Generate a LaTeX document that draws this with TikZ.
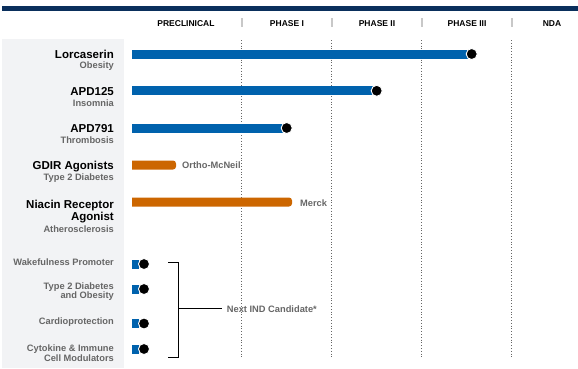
\documentclass[tikz,border=0pt]{standalone}
\usepackage{fontspec}
\setmainfont{Liberation Sans}
\usetikzlibrary{positioning,calc}
\definecolor{PipeNavy}{HTML}{0A2F5C}
\definecolor{PipeBlue}{HTML}{0062AD}
\definecolor{PipeOrange}{HTML}{CC6600}
\definecolor{PipeGray}{HTML}{666666}
\definecolor{PipePanel}{HTML}{F2F3F5}
\definecolor{PipeRule}{HTML}{C8C8C8}

\begin{document}
\begin{tikzpicture}[x=1pt,y=-1pt,
    title/.style={anchor=base east,inner sep=0pt,font=\fontsize{11.5}{12}\selectfont\bfseries},
    sub/.style={anchor=base east,inner sep=0pt,text=PipeGray,font=\fontsize{9.3}{10}\selectfont\bfseries},
    phase/.style={anchor=base,inner sep=0pt,font=\fontsize{8.5}{10}\selectfont\bfseries},
    dot/.style={circle,fill=black,draw=white,line width=0.9pt,minimum size=11pt,inner sep=0pt}]
    \useasboundingbox (0,0) rectangle (578,368);
    \fill[PipeNavy] (2,6) rectangle (578,11);
    \fill[PipePanel] (2,39) rectangle (124,368);
    % phase columns
    \foreach \x in {241.7,331.7,421.7,511.7} {
      \draw[PipeRule,line width=1.6pt] (\x,18.3) -- (\x,27.3);
      \draw[PipeGray,line width=0.7pt,dash pattern=on 0.7pt off 2.1pt] (\x,40) -- (\x,357);
    }
    \node[phase] (pre) at (186,26) {PRECLINICAL};
    \node[phase] (ph1) at (287,26) {PHASE I};
    \node[phase] (ph2) at (377,26) {PHASE II};
    \node[phase] (ph3) at (467,26) {PHASE III};
    \node[phase] (nda) at (552,26) {NDA};
    % lead compounds
    \node[title] (lorc) at (114,58) {Lorcaserin};
    \node[sub] (lorcsub) at (114,68) {Obesity};
    \fill[PipeBlue] (132,49.5) rectangle (468,58.5);
    \node[dot] (lorcdot) at (471.7,54) {};
    \node[title] (apda) at (114,95.5) {APD125};
    \node[sub] (apdasub) at (114,106.5) {Insomnia};
    \fill[PipeBlue] (132,86.3) rectangle (373,95.3);
    \node[dot] (apdadot) at (376.7,90.8) {};
    \node[title] (apdb) at (114,132.5) {APD791};
    \node[sub] (apdbsub) at (114,143) {Thrombosis};
    \fill[PipeBlue] (132,123.5) rectangle (283,132.5);
    \node[dot] (apdbdot) at (286.7,128) {};
    % partnered programs
    \node[title] (gdir) at (114,169) {GDIR Agonists};
    \node[sub] (gdirsub) at (114,180.5) {Type 2 Diabetes};
    \fill[PipeOrange] (132,160.5) -- (173,160.5) .. controls (174.7,160.5) and (176,161.8) .. (176,163.5)
      -- (176,166.5) .. controls (176,168.2) and (174.7,169.5) .. (173,169.5) -- (132,169.5) -- cycle;
    \node[sub,anchor=base west] (ortho) at (182,168.5) {Ortho-McNeil};
    \node[title] (niac) at (114,208.8) {Niacin Receptor};
    \node[title] (niacb) at (114,220.5) {Agonist};
    \node[sub] (niacsub) at (114,232) {Atherosclerosis};
    \fill[PipeOrange] (132,197.5) -- (289,197.5) .. controls (290.7,197.5) and (292,198.8) .. (292,200.5)
      -- (292,203.5) .. controls (292,205.2) and (290.7,206.5) .. (289,206.5) -- (132,206.5) -- cycle;
    \node[sub,anchor=base west] (merck) at (300,206) {Merck};
    % discovery programs
    \node[sub] (wake) at (114,265.5) {Wakefulness Promoter};
    \node[sub] (diab) at (114,289) {Type 2 Diabetes};
    \node[sub] (diabb) at (114,298.5) {and Obesity};
    \node[sub] (card) at (114,324.5) {Cardioprotection};
    \node[sub] (cyto) at (114,351) {Cytokine \& Immune};
    \node[sub] (cytob) at (114,361) {Cell Modulators};
    \foreach \y/\n in {264/wakedot,289/diabdot,323.5/carddot,349/cytodot} {
      \fill[PipeBlue] (132,\y-4.5) rectangle (139,\y+4.5);
      \node[dot] (\n) at (144,\y) {};
    }
    \node[sub,anchor=base west] (nextind) at (226.7,312) {Next IND Candidate*};
    \coordinate (brtop) at (178.3,262.7);
    \coordinate (brbot) at (178.3,357.7);
    \draw[line width=1.2pt] ($(brtop)+(-10.3,0)$) -- (brtop) -- (brbot) -- ++(-10.3,0);
    \draw[line width=1.2pt,shorten >=4.7pt] (brtop |- nextind.west) -- (nextind.west);
\end{tikzpicture}
\end{document}
